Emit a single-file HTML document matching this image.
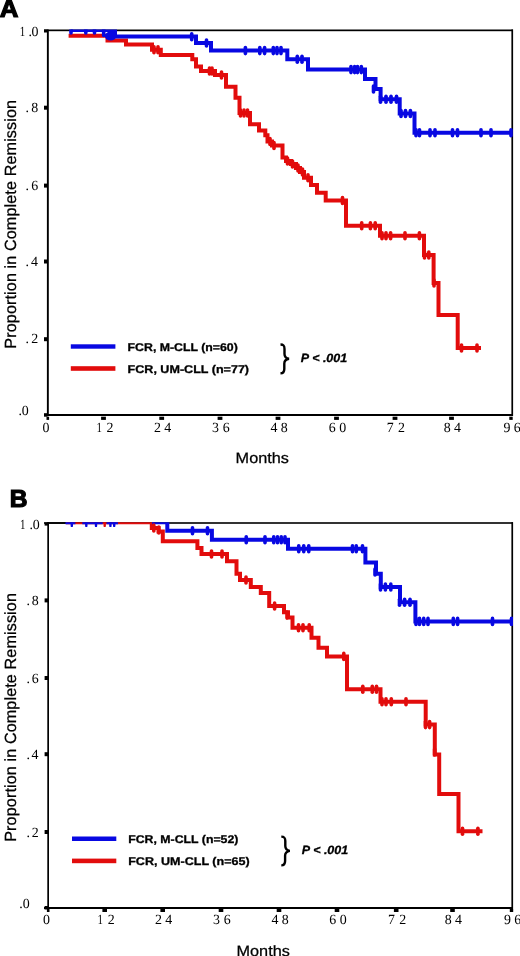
<!DOCTYPE html>
<html><head><meta charset="utf-8"><title>Kaplan-Meier CR duration</title><style>
html,body{margin:0;padding:0;background:#fff;}
body{width:520px;height:956px;overflow:hidden;}
svg{display:block;will-change:transform;filter:blur(0.3px);}
text{text-rendering:geometricPrecision;}
.t{font-family:"Liberation Serif",serif;font-size:14px;fill:#000;}
.ab{font-family:"Liberation Sans",sans-serif;font-weight:bold;font-size:24.6px;fill:#000;stroke:#000;stroke-width:1.2px;}
.mo{font-family:"Liberation Sans",sans-serif;font-size:15px;fill:#000;stroke:#000;stroke-width:0.25px;}
.yl{font-family:"Liberation Sans",sans-serif;font-size:16.2px;fill:#000;letter-spacing:0.1px;stroke:#000;stroke-width:0.25px;}
.lg{font-family:"Liberation Sans",sans-serif;font-weight:bold;font-size:11.2px;fill:#000;stroke:#000;stroke-width:0.3px;}
.pv{font-family:"Liberation Sans",sans-serif;font-weight:bold;font-style:italic;font-size:12px;fill:#000;stroke:#000;stroke-width:0.3px;}
</style></head><body>
<svg width="520" height="956" viewBox="0 0 520 956">
<defs><clipPath id="ca"><rect x="47" y="29.5" width="466" height="386"/></clipPath><clipPath id="cb"><rect x="47" y="522.2" width="466" height="386"/></clipPath></defs>
<rect width="520" height="956" fill="#fff"/>
<text class="ab" transform="translate(-0.3,17.2) scale(1.05,1)">A</text>
<g fill="#000">
<rect x="44" y="29.5" width="469" height="1.7"/>
<rect x="511.4" y="29.5" width="1.7" height="386.5"/>
<rect x="46.9" y="29.5" width="1.9" height="386.5"/>
<rect x="44" y="414" width="469" height="2"/>
<rect x="44" y="105.7" width="3.5" height="4"/>
<rect x="44" y="183.6" width="3.5" height="4"/>
<rect x="44" y="259.5" width="3.5" height="4"/>
<rect x="44" y="337.2" width="3.5" height="4"/>
<rect x="44" y="413.2" width="3.5" height="3.5"/>
<rect x="44" y="29.5" width="3.5" height="3"/>
<rect x="46.5" y="416.7" width="2.6" height="3.2"/>
<rect x="101.1" y="416.7" width="4.8" height="3.2"/>
<rect x="159.3" y="416.7" width="4.8" height="3.2"/>
<rect x="217.6" y="416.7" width="4.8" height="3.2"/>
<rect x="275.6" y="416.7" width="4.8" height="3.2"/>
<rect x="334.1" y="416.7" width="4.8" height="3.2"/>
<rect x="392.6" y="416.7" width="4.8" height="3.2"/>
<rect x="449.1" y="416.7" width="4.8" height="3.2"/>
<rect x="509.3" y="416.7" width="3.4" height="3.2"/>
</g>
<g clip-path="url(#ca)" fill="none" stroke-linejoin="miter">
<path d="M 68.6 35.8 H 107.5 V 40.4 H 126 V 44.6 H 152 V 49.8 H 160.8 V 54.9 H 192.3 V 59.2 H 196 V 66.5 H 201 V 71 H 215 V 75 H 226 V 86.8 H 235.5 V 97.8 H 239.5 V 113 H 250 V 124.3 H 259 V 130.5 H 265.3 V 135.3 H 267.5 V 141.5 H 272 V 145.5 H 282.5 V 157.5 H 286 V 161 H 291 V 164 H 296 V 168 H 300 V 172 H 304 V 177.7 H 311 V 185 H 317 V 192.7 H 325.7 V 200.5 H 346 V 225.8 H 380 V 235.7 H 424 V 255 H 433.6 V 283 H 438.5 V 315 H 457.7 V 348 H 481" stroke="#e20c0c" stroke-width="4"/>
<path d="M 70.7 29.9 H 115 V 36.5 H 196 V 43 H 211 V 50.6 H 287.3 V 59.3 H 308 V 69.6 H 365 V 79 H 375.5 V 89 H 380.6 V 99.2 H 399.7 V 113.5 H 414.5 V 132.8 H 512" stroke="#0808e2" stroke-width="4"/>
<line x1="154" y1="46.8" x2="154" y2="52.8" stroke="#e20c0c" stroke-width="3.6" stroke-linecap="round"/>
<line x1="158" y1="46.8" x2="158" y2="52.8" stroke="#e20c0c" stroke-width="3.6" stroke-linecap="round"/>
<line x1="209.5" y1="68.0" x2="209.5" y2="74.0" stroke="#e20c0c" stroke-width="3.6" stroke-linecap="round"/>
<line x1="212" y1="68.0" x2="212" y2="74.0" stroke="#e20c0c" stroke-width="3.6" stroke-linecap="round"/>
<line x1="221.5" y1="72.0" x2="221.5" y2="78.0" stroke="#e20c0c" stroke-width="3.6" stroke-linecap="round"/>
<line x1="240.5" y1="110.0" x2="240.5" y2="116.0" stroke="#e20c0c" stroke-width="3.6" stroke-linecap="round"/>
<line x1="244" y1="110.0" x2="244" y2="116.0" stroke="#e20c0c" stroke-width="3.6" stroke-linecap="round"/>
<line x1="247.5" y1="110.0" x2="247.5" y2="116.0" stroke="#e20c0c" stroke-width="3.6" stroke-linecap="round"/>
<line x1="270" y1="138.5" x2="270" y2="144.5" stroke="#e20c0c" stroke-width="3.6" stroke-linecap="round"/>
<line x1="274" y1="142.5" x2="274" y2="148.5" stroke="#e20c0c" stroke-width="3.6" stroke-linecap="round"/>
<line x1="287.5" y1="158.0" x2="287.5" y2="164.0" stroke="#e20c0c" stroke-width="3.6" stroke-linecap="round"/>
<line x1="292.5" y1="161.0" x2="292.5" y2="167.0" stroke="#e20c0c" stroke-width="3.6" stroke-linecap="round"/>
<line x1="298" y1="165.0" x2="298" y2="171.0" stroke="#e20c0c" stroke-width="3.6" stroke-linecap="round"/>
<line x1="302.5" y1="169.0" x2="302.5" y2="175.0" stroke="#e20c0c" stroke-width="3.6" stroke-linecap="round"/>
<line x1="308" y1="174.7" x2="308" y2="180.7" stroke="#e20c0c" stroke-width="3.6" stroke-linecap="round"/>
<line x1="342.5" y1="197.5" x2="342.5" y2="203.5" stroke="#e20c0c" stroke-width="3.6" stroke-linecap="round"/>
<line x1="361.7" y1="222.8" x2="361.7" y2="228.8" stroke="#e20c0c" stroke-width="3.6" stroke-linecap="round"/>
<line x1="370.4" y1="222.8" x2="370.4" y2="228.8" stroke="#e20c0c" stroke-width="3.6" stroke-linecap="round"/>
<line x1="375.2" y1="222.8" x2="375.2" y2="228.8" stroke="#e20c0c" stroke-width="3.6" stroke-linecap="round"/>
<line x1="382" y1="232.7" x2="382" y2="238.7" stroke="#e20c0c" stroke-width="3.6" stroke-linecap="round"/>
<line x1="386" y1="232.7" x2="386" y2="238.7" stroke="#e20c0c" stroke-width="3.6" stroke-linecap="round"/>
<line x1="390.6" y1="232.7" x2="390.6" y2="238.7" stroke="#e20c0c" stroke-width="3.6" stroke-linecap="round"/>
<line x1="405" y1="232.7" x2="405" y2="238.7" stroke="#e20c0c" stroke-width="3.6" stroke-linecap="round"/>
<line x1="419.4" y1="232.7" x2="419.4" y2="238.7" stroke="#e20c0c" stroke-width="3.6" stroke-linecap="round"/>
<line x1="424.5" y1="252.0" x2="424.5" y2="258.0" stroke="#e20c0c" stroke-width="3.6" stroke-linecap="round"/>
<line x1="428.8" y1="252.0" x2="428.8" y2="258.0" stroke="#e20c0c" stroke-width="3.6" stroke-linecap="round"/>
<line x1="434" y1="280.0" x2="434" y2="286.0" stroke="#e20c0c" stroke-width="3.6" stroke-linecap="round"/>
<line x1="461.5" y1="345.0" x2="461.5" y2="351.0" stroke="#e20c0c" stroke-width="3.6" stroke-linecap="round"/>
<line x1="477" y1="345.0" x2="477" y2="351.0" stroke="#e20c0c" stroke-width="3.6" stroke-linecap="round"/>
<line x1="71" y1="27.0" x2="71" y2="33.0" stroke="#0808e2" stroke-width="3.6" stroke-linecap="round"/>
<line x1="85.8" y1="27.0" x2="85.8" y2="33.0" stroke="#0808e2" stroke-width="3.6" stroke-linecap="round"/>
<line x1="94.5" y1="27.0" x2="94.5" y2="33.0" stroke="#0808e2" stroke-width="3.6" stroke-linecap="round"/>
<line x1="103.7" y1="29.5" x2="103.7" y2="35.5" stroke="#0808e2" stroke-width="3.6" stroke-linecap="round"/>
<line x1="191.7" y1="33.8" x2="191.7" y2="39.8" stroke="#0808e2" stroke-width="3.6" stroke-linecap="round"/>
<line x1="206.5" y1="40.0" x2="206.5" y2="46.0" stroke="#0808e2" stroke-width="3.6" stroke-linecap="round"/>
<line x1="245.4" y1="47.6" x2="245.4" y2="53.6" stroke="#0808e2" stroke-width="3.6" stroke-linecap="round"/>
<line x1="259.8" y1="47.6" x2="259.8" y2="53.6" stroke="#0808e2" stroke-width="3.6" stroke-linecap="round"/>
<line x1="264.6" y1="47.6" x2="264.6" y2="53.6" stroke="#0808e2" stroke-width="3.6" stroke-linecap="round"/>
<line x1="273.3" y1="47.6" x2="273.3" y2="53.6" stroke="#0808e2" stroke-width="3.6" stroke-linecap="round"/>
<line x1="277" y1="47.6" x2="277" y2="53.6" stroke="#0808e2" stroke-width="3.6" stroke-linecap="round"/>
<line x1="281" y1="47.6" x2="281" y2="53.6" stroke="#0808e2" stroke-width="3.6" stroke-linecap="round"/>
<line x1="297.3" y1="56.3" x2="297.3" y2="62.3" stroke="#0808e2" stroke-width="3.6" stroke-linecap="round"/>
<line x1="302" y1="56.3" x2="302" y2="62.3" stroke="#0808e2" stroke-width="3.6" stroke-linecap="round"/>
<line x1="308" y1="63.0" x2="308" y2="69.0" stroke="#0808e2" stroke-width="3.6" stroke-linecap="round"/>
<line x1="351" y1="66.6" x2="351" y2="72.6" stroke="#0808e2" stroke-width="3.6" stroke-linecap="round"/>
<line x1="354.6" y1="66.6" x2="354.6" y2="72.6" stroke="#0808e2" stroke-width="3.6" stroke-linecap="round"/>
<line x1="357.5" y1="66.6" x2="357.5" y2="72.6" stroke="#0808e2" stroke-width="3.6" stroke-linecap="round"/>
<line x1="361.3" y1="66.6" x2="361.3" y2="72.6" stroke="#0808e2" stroke-width="3.6" stroke-linecap="round"/>
<line x1="373.5" y1="86.0" x2="373.5" y2="92.0" stroke="#0808e2" stroke-width="3.6" stroke-linecap="round"/>
<line x1="380.5" y1="96.2" x2="380.5" y2="102.2" stroke="#0808e2" stroke-width="3.6" stroke-linecap="round"/>
<line x1="386" y1="96.2" x2="386" y2="102.2" stroke="#0808e2" stroke-width="3.6" stroke-linecap="round"/>
<line x1="391" y1="96.2" x2="391" y2="102.2" stroke="#0808e2" stroke-width="3.6" stroke-linecap="round"/>
<line x1="396.5" y1="96.2" x2="396.5" y2="102.2" stroke="#0808e2" stroke-width="3.6" stroke-linecap="round"/>
<line x1="401" y1="110.5" x2="401" y2="116.5" stroke="#0808e2" stroke-width="3.6" stroke-linecap="round"/>
<line x1="405.5" y1="110.5" x2="405.5" y2="116.5" stroke="#0808e2" stroke-width="3.6" stroke-linecap="round"/>
<line x1="410.4" y1="110.5" x2="410.4" y2="116.5" stroke="#0808e2" stroke-width="3.6" stroke-linecap="round"/>
<line x1="416" y1="129.8" x2="416" y2="135.8" stroke="#0808e2" stroke-width="3.6" stroke-linecap="round"/>
<line x1="419.5" y1="129.8" x2="419.5" y2="135.8" stroke="#0808e2" stroke-width="3.6" stroke-linecap="round"/>
<line x1="430" y1="129.8" x2="430" y2="135.8" stroke="#0808e2" stroke-width="3.6" stroke-linecap="round"/>
<line x1="435" y1="129.8" x2="435" y2="135.8" stroke="#0808e2" stroke-width="3.6" stroke-linecap="round"/>
<line x1="452.5" y1="129.8" x2="452.5" y2="135.8" stroke="#0808e2" stroke-width="3.6" stroke-linecap="round"/>
<line x1="457.5" y1="129.8" x2="457.5" y2="135.8" stroke="#0808e2" stroke-width="3.6" stroke-linecap="round"/>
<line x1="481" y1="129.8" x2="481" y2="135.8" stroke="#0808e2" stroke-width="3.6" stroke-linecap="round"/>
<line x1="491" y1="129.8" x2="491" y2="135.8" stroke="#0808e2" stroke-width="3.6" stroke-linecap="round"/>
<line x1="511" y1="129.8" x2="511" y2="135.8" stroke="#0808e2" stroke-width="3.6" stroke-linecap="round"/>
<ellipse cx="110.6" cy="36.1" rx="5.8" ry="4.5" fill="#0808e2"/>
</g>
<text class="t" transform="translate(19.82,36.40) scale(0.78,1)">1</text>
<text class="t" transform="translate(28.42,36.40) scale(0.995,1)">.</text>
<text class="t" transform="translate(31.44,36.40) scale(0.995,1)">0</text>
<text class="t" transform="translate(25.62,112.30) scale(0.995,1)">.</text>
<text class="t" transform="translate(31.34,112.30) scale(0.995,1)">8</text>
<text class="t" transform="translate(25.62,190.20) scale(0.995,1)">.</text>
<text class="t" transform="translate(31.34,190.20) scale(0.995,1)">6</text>
<text class="t" transform="translate(25.62,265.80) scale(0.995,1)">.</text>
<text class="t" transform="translate(31.12,265.80) scale(0.995,1)">4</text>
<text class="t" transform="translate(25.62,342.80) scale(0.995,1)">.</text>
<text class="t" transform="translate(31.34,342.80) scale(0.995,1)">2</text>
<text class="t" transform="translate(18.52,414.50) scale(0.995,1)">.</text>
<text class="t" transform="translate(21.64,414.50) scale(0.995,1)">0</text>
<text class="t" transform="translate(42.44,431.90) scale(0.995,1)">0</text>
<text class="t" transform="translate(96.42,431.90) scale(0.78,1)">1</text>
<text class="t" transform="translate(106.57,431.90) scale(0.995,1)">2</text>
<text class="t" transform="translate(153.94,431.90) scale(0.995,1)">2</text>
<text class="t" transform="translate(164.21,431.90) scale(0.995,1)">4</text>
<text class="t" transform="translate(212.10,431.90) scale(0.995,1)">3</text>
<text class="t" transform="translate(222.65,431.90) scale(0.995,1)">6</text>
<text class="t" transform="translate(270.52,431.90) scale(0.995,1)">4</text>
<text class="t" transform="translate(280.79,431.90) scale(0.995,1)">8</text>
<text class="t" transform="translate(328.74,431.90) scale(0.995,1)">6</text>
<text class="t" transform="translate(339.29,431.90) scale(0.995,1)">0</text>
<text class="t" transform="translate(386.82,431.90) scale(0.995,1)">7</text>
<text class="t" transform="translate(398.07,431.90) scale(0.995,1)">2</text>
<text class="t" transform="translate(443.74,431.90) scale(0.995,1)">8</text>
<text class="t" transform="translate(454.01,431.90) scale(0.995,1)">4</text>
<text class="t" transform="translate(503.38,431.90) scale(0.995,1)">9</text>
<text class="t" transform="translate(513.65,431.90) scale(0.995,1)">6</text>
<text class="mo" transform="translate(235.6,463.3) scale(1.084,1)">Months</text>
<text class="yl" transform="translate(15.5,348.7) rotate(-90)">Proportion in Complete Remission</text>
<rect x="70.8" y="344.3" width="44.6" height="4.4" fill="#0808e2"/>
<rect x="70.8" y="366.2" width="44.6" height="4.6" fill="#e20c0c"/>
<text class="lg" transform="translate(127.6,350.8) scale(1.1,1)">FCR, M-CLL (n=60)</text>
<text class="lg" transform="translate(127.6,372.9) scale(1.122,1)">FCR, UM-CLL (n=77)</text>
<path d="M 280.5 344.5 C 284 344.5 284.5 346 284.5 349 L 284.5 354 C 284.5 357 286 358.3 289 358.8 C 286 359.3 284.3 360.5 284.3 363.5 L 284.3 369 C 284.3 372 283.5 373.3 280.5 373.3" fill="none" stroke="#000" stroke-width="2.4"/>
<text class="pv" transform="translate(300.8,361.6) scale(1.04,1)">P &lt; .001</text>
<text class="ab" transform="translate(9.7,507.2) scale(1.0,1)">B</text>
<g fill="#000">
<rect x="44" y="522.2" width="469" height="1.6"/>
<rect x="47.2" y="522.2" width="65.4" height="1.6"/>
<rect x="511.4" y="522.2" width="1.7" height="386.8"/>
<rect x="47.3" y="522.2" width="1.7" height="386.8"/>
<rect x="44" y="907" width="469" height="2"/>
<rect x="44.6" y="598.4" width="3.5" height="4"/>
<rect x="44.6" y="676.0" width="3.5" height="4"/>
<rect x="44.6" y="752.2" width="3.5" height="4"/>
<rect x="44.6" y="830.0" width="3.5" height="4"/>
<rect x="44.6" y="906" width="3.5" height="3.5"/>
<rect x="44.6" y="522.6" width="3.5" height="3"/>
<rect x="46.9" y="909" width="2.6" height="3"/>
<rect x="102.4" y="909" width="4.6" height="3"/>
<rect x="160.4" y="909" width="4.6" height="3"/>
<rect x="218.7" y="909" width="4.6" height="3"/>
<rect x="276.7" y="909" width="4.6" height="3"/>
<rect x="334.7" y="909" width="4.6" height="3"/>
<rect x="393.9" y="909" width="4.6" height="3"/>
<rect x="450.2" y="909" width="4.6" height="3"/>
<rect x="509.8" y="909" width="3.4" height="3"/>
</g>
<g clip-path="url(#cb)" fill="none" stroke-linejoin="miter">
<path d="M 66 522.3 H 151.8 V 528 H 158.5 V 531.6 H 162.8 V 541.3 H 197.4 V 548 H 201.5 V 554 H 227 V 561.3 H 236.5 V 573.8 H 240 V 580 H 250.8 V 587 H 260.8 V 593 H 269.2 V 606 H 284 V 612.3 H 288 V 617.5 H 292.5 V 627.7 H 311.5 V 637.7 H 318.5 V 647.7 H 327 V 656.4 H 347 V 689.2 H 380.5 V 701.8 H 425.7 V 724.6 H 434.8 V 754.4 H 439.2 V 794 H 458.5 V 831.3 H 482.5" stroke="#e20c0c" stroke-width="4"/>
<path d="M 65.4 522.3 H 75.4 M 82.3 522.3 H 102.7 M 106.5 522.3 H 118" stroke="#0808e2" stroke-width="4"/>
<path d="M 152 522.3 H 167.3 V 530.8 H 211.9 V 539.8 H 288 V 548.8 H 365.4 V 562.5 H 376 V 573.8 H 380.8 V 587 H 400 V 602.3 H 415.4 V 621.4 H 512" stroke="#0808e2" stroke-width="4"/>
<line x1="71.8" y1="519.3000000000001" x2="71.8" y2="525.9" stroke="#0808e2" stroke-width="2.4" stroke-linecap="round"/>
<line x1="86.3" y1="519.3000000000001" x2="86.3" y2="525.9" stroke="#0808e2" stroke-width="2.4" stroke-linecap="round"/>
<line x1="96" y1="519.3000000000001" x2="96" y2="525.9" stroke="#0808e2" stroke-width="2.4" stroke-linecap="round"/>
<line x1="110.4" y1="519.3000000000001" x2="110.4" y2="525.9" stroke="#0808e2" stroke-width="2.4" stroke-linecap="round"/>
<line x1="114.2" y1="519.3000000000001" x2="114.2" y2="525.9" stroke="#0808e2" stroke-width="2.4" stroke-linecap="round"/>
<line x1="104.7" y1="519.3000000000001" x2="104.7" y2="525.9" stroke="#e20c0c" stroke-width="2.4" stroke-linecap="round"/>
<line x1="153.8" y1="525.0" x2="153.8" y2="531.0" stroke="#e20c0c" stroke-width="3.6" stroke-linecap="round"/>
<line x1="158.8" y1="527.0" x2="158.8" y2="533.0" stroke="#e20c0c" stroke-width="3.6" stroke-linecap="round"/>
<line x1="192.5" y1="527.8" x2="192.5" y2="533.8" stroke="#0808e2" stroke-width="3.6" stroke-linecap="round"/>
<line x1="207.5" y1="527.8" x2="207.5" y2="533.8" stroke="#0808e2" stroke-width="3.6" stroke-linecap="round"/>
<line x1="246.25" y1="536.8" x2="246.25" y2="542.8" stroke="#0808e2" stroke-width="3.6" stroke-linecap="round"/>
<line x1="265" y1="536.8" x2="265" y2="542.8" stroke="#0808e2" stroke-width="3.6" stroke-linecap="round"/>
<line x1="273.75" y1="536.8" x2="273.75" y2="542.8" stroke="#0808e2" stroke-width="3.6" stroke-linecap="round"/>
<line x1="277.5" y1="536.8" x2="277.5" y2="542.8" stroke="#0808e2" stroke-width="3.6" stroke-linecap="round"/>
<line x1="281.25" y1="536.8" x2="281.25" y2="542.8" stroke="#0808e2" stroke-width="3.6" stroke-linecap="round"/>
<line x1="285" y1="536.8" x2="285" y2="542.8" stroke="#0808e2" stroke-width="3.6" stroke-linecap="round"/>
<line x1="298.75" y1="545.8" x2="298.75" y2="551.8" stroke="#0808e2" stroke-width="3.6" stroke-linecap="round"/>
<line x1="303.75" y1="545.8" x2="303.75" y2="551.8" stroke="#0808e2" stroke-width="3.6" stroke-linecap="round"/>
<line x1="308.75" y1="545.8" x2="308.75" y2="551.8" stroke="#0808e2" stroke-width="3.6" stroke-linecap="round"/>
<line x1="352.5" y1="545.8" x2="352.5" y2="551.8" stroke="#0808e2" stroke-width="3.6" stroke-linecap="round"/>
<line x1="356.25" y1="545.8" x2="356.25" y2="551.8" stroke="#0808e2" stroke-width="3.6" stroke-linecap="round"/>
<line x1="362.5" y1="545.8" x2="362.5" y2="551.8" stroke="#0808e2" stroke-width="3.6" stroke-linecap="round"/>
<line x1="375" y1="569.0" x2="375" y2="575.0" stroke="#0808e2" stroke-width="3.6" stroke-linecap="round"/>
<line x1="380.5" y1="584.0" x2="380.5" y2="590.0" stroke="#0808e2" stroke-width="3.6" stroke-linecap="round"/>
<line x1="385.4" y1="584.0" x2="385.4" y2="590.0" stroke="#0808e2" stroke-width="3.6" stroke-linecap="round"/>
<line x1="390.8" y1="584.0" x2="390.8" y2="590.0" stroke="#0808e2" stroke-width="3.6" stroke-linecap="round"/>
<line x1="399.5" y1="599.3" x2="399.5" y2="605.3" stroke="#0808e2" stroke-width="3.6" stroke-linecap="round"/>
<line x1="404.6" y1="599.3" x2="404.6" y2="605.3" stroke="#0808e2" stroke-width="3.6" stroke-linecap="round"/>
<line x1="410" y1="599.3" x2="410" y2="605.3" stroke="#0808e2" stroke-width="3.6" stroke-linecap="round"/>
<line x1="416" y1="618.4" x2="416" y2="624.4" stroke="#0808e2" stroke-width="3.6" stroke-linecap="round"/>
<line x1="419.5" y1="618.4" x2="419.5" y2="624.4" stroke="#0808e2" stroke-width="3.6" stroke-linecap="round"/>
<line x1="423.7" y1="618.4" x2="423.7" y2="624.4" stroke="#0808e2" stroke-width="3.6" stroke-linecap="round"/>
<line x1="428" y1="618.4" x2="428" y2="624.4" stroke="#0808e2" stroke-width="3.6" stroke-linecap="round"/>
<line x1="453.3" y1="618.4" x2="453.3" y2="624.4" stroke="#0808e2" stroke-width="3.6" stroke-linecap="round"/>
<line x1="457.6" y1="618.4" x2="457.6" y2="624.4" stroke="#0808e2" stroke-width="3.6" stroke-linecap="round"/>
<line x1="492.5" y1="618.4" x2="492.5" y2="624.4" stroke="#0808e2" stroke-width="3.6" stroke-linecap="round"/>
<line x1="511.5" y1="618.4" x2="511.5" y2="624.4" stroke="#0808e2" stroke-width="3.6" stroke-linecap="round"/>
<line x1="211.5" y1="551.0" x2="211.5" y2="557.0" stroke="#e20c0c" stroke-width="3.6" stroke-linecap="round"/>
<line x1="222" y1="551.0" x2="222" y2="557.0" stroke="#e20c0c" stroke-width="3.6" stroke-linecap="round"/>
<line x1="246" y1="577.0" x2="246" y2="583.0" stroke="#e20c0c" stroke-width="3.6" stroke-linecap="round"/>
<line x1="274.6" y1="603.0" x2="274.6" y2="609.0" stroke="#e20c0c" stroke-width="3.6" stroke-linecap="round"/>
<line x1="287" y1="612.0" x2="287" y2="618.0" stroke="#e20c0c" stroke-width="3.6" stroke-linecap="round"/>
<line x1="298.5" y1="624.7" x2="298.5" y2="630.7" stroke="#e20c0c" stroke-width="3.6" stroke-linecap="round"/>
<line x1="303" y1="624.7" x2="303" y2="630.7" stroke="#e20c0c" stroke-width="3.6" stroke-linecap="round"/>
<line x1="309.2" y1="624.7" x2="309.2" y2="630.7" stroke="#e20c0c" stroke-width="3.6" stroke-linecap="round"/>
<line x1="343.8" y1="653.4" x2="343.8" y2="659.4" stroke="#e20c0c" stroke-width="3.6" stroke-linecap="round"/>
<line x1="362.8" y1="686.2" x2="362.8" y2="692.2" stroke="#e20c0c" stroke-width="3.6" stroke-linecap="round"/>
<line x1="372.3" y1="686.2" x2="372.3" y2="692.2" stroke="#e20c0c" stroke-width="3.6" stroke-linecap="round"/>
<line x1="376.5" y1="686.2" x2="376.5" y2="692.2" stroke="#e20c0c" stroke-width="3.6" stroke-linecap="round"/>
<line x1="382" y1="698.8" x2="382" y2="704.8" stroke="#e20c0c" stroke-width="3.6" stroke-linecap="round"/>
<line x1="386" y1="698.8" x2="386" y2="704.8" stroke="#e20c0c" stroke-width="3.6" stroke-linecap="round"/>
<line x1="391.3" y1="698.8" x2="391.3" y2="704.8" stroke="#e20c0c" stroke-width="3.6" stroke-linecap="round"/>
<line x1="406" y1="698.8" x2="406" y2="704.8" stroke="#e20c0c" stroke-width="3.6" stroke-linecap="round"/>
<line x1="425.5" y1="721.6" x2="425.5" y2="727.6" stroke="#e20c0c" stroke-width="3.6" stroke-linecap="round"/>
<line x1="429.6" y1="721.6" x2="429.6" y2="727.6" stroke="#e20c0c" stroke-width="3.6" stroke-linecap="round"/>
<line x1="434.6" y1="749.0" x2="434.6" y2="755.0" stroke="#e20c0c" stroke-width="3.6" stroke-linecap="round"/>
<line x1="462.5" y1="828.3" x2="462.5" y2="834.3" stroke="#e20c0c" stroke-width="3.6" stroke-linecap="round"/>
<line x1="477.9" y1="828.3" x2="477.9" y2="834.3" stroke="#e20c0c" stroke-width="3.6" stroke-linecap="round"/>
</g>
<text class="t" transform="translate(20.12,528.50) scale(0.78,1)">1</text>
<text class="t" transform="translate(29.52,528.50) scale(0.995,1)">.</text>
<text class="t" transform="translate(32.74,528.50) scale(0.995,1)">0</text>
<text class="t" transform="translate(26.62,604.60) scale(0.995,1)">.</text>
<text class="t" transform="translate(31.74,604.60) scale(0.995,1)">8</text>
<text class="t" transform="translate(26.62,682.80) scale(0.995,1)">.</text>
<text class="t" transform="translate(31.74,682.80) scale(0.995,1)">6</text>
<text class="t" transform="translate(26.62,759.00) scale(0.995,1)">.</text>
<text class="t" transform="translate(31.52,759.00) scale(0.995,1)">4</text>
<text class="t" transform="translate(26.62,836.60) scale(0.995,1)">.</text>
<text class="t" transform="translate(31.74,836.60) scale(0.995,1)">2</text>
<text class="t" transform="translate(19.32,908.00) scale(0.995,1)">.</text>
<text class="t" transform="translate(22.74,908.00) scale(0.995,1)">0</text>
<text class="t" transform="translate(42.94,924.30) scale(0.995,1)">0</text>
<text class="t" transform="translate(97.62,924.30) scale(0.78,1)">1</text>
<text class="t" transform="translate(107.77,924.30) scale(0.995,1)">2</text>
<text class="t" transform="translate(154.94,924.30) scale(0.995,1)">2</text>
<text class="t" transform="translate(165.21,924.30) scale(0.995,1)">4</text>
<text class="t" transform="translate(213.10,924.30) scale(0.995,1)">3</text>
<text class="t" transform="translate(223.65,924.30) scale(0.995,1)">6</text>
<text class="t" transform="translate(271.52,924.30) scale(0.995,1)">4</text>
<text class="t" transform="translate(281.79,924.30) scale(0.995,1)">8</text>
<text class="t" transform="translate(329.24,924.30) scale(0.995,1)">6</text>
<text class="t" transform="translate(339.79,924.30) scale(0.995,1)">0</text>
<text class="t" transform="translate(388.02,924.30) scale(0.995,1)">7</text>
<text class="t" transform="translate(399.27,924.30) scale(0.995,1)">2</text>
<text class="t" transform="translate(444.74,924.30) scale(0.995,1)">8</text>
<text class="t" transform="translate(455.01,924.30) scale(0.995,1)">4</text>
<text class="t" transform="translate(503.88,924.30) scale(0.995,1)">9</text>
<text class="t" transform="translate(514.15,924.30) scale(0.995,1)">6</text>
<text class="mo" transform="translate(236.5,955.8) scale(1.084,1)">Months</text>
<text class="yl" transform="translate(16.2,841.8) rotate(-90)">Proportion in Complete Remission</text>
<rect x="72" y="836.5" width="44.3" height="4.5" fill="#0808e2"/>
<rect x="72" y="858.6" width="44.3" height="4.6" fill="#e20c0c"/>
<text class="lg" transform="translate(128.2,843.3) scale(1.1,1)">FCR, M-CLL (n=52)</text>
<text class="lg" transform="translate(128.2,864.8) scale(1.122,1)">FCR, UM-CLL (n=65)</text>
<path d="M 281.3 836.6 C 284.8 836.6 285.3 838.1 285.3 841.1 L 285.3 846.1 C 285.3 849.1 286.8 850.4 289.8 850.9 C 286.8 851.4 285.1 852.6 285.1 855.6 L 285.1 861.1 C 285.1 864.1 284.3 865.4 281.3 865.4" fill="none" stroke="#000" stroke-width="2.4"/>
<text class="pv" transform="translate(301.8,854.2) scale(1.04,1)">P &lt; .001</text>
</svg>
</body></html>
